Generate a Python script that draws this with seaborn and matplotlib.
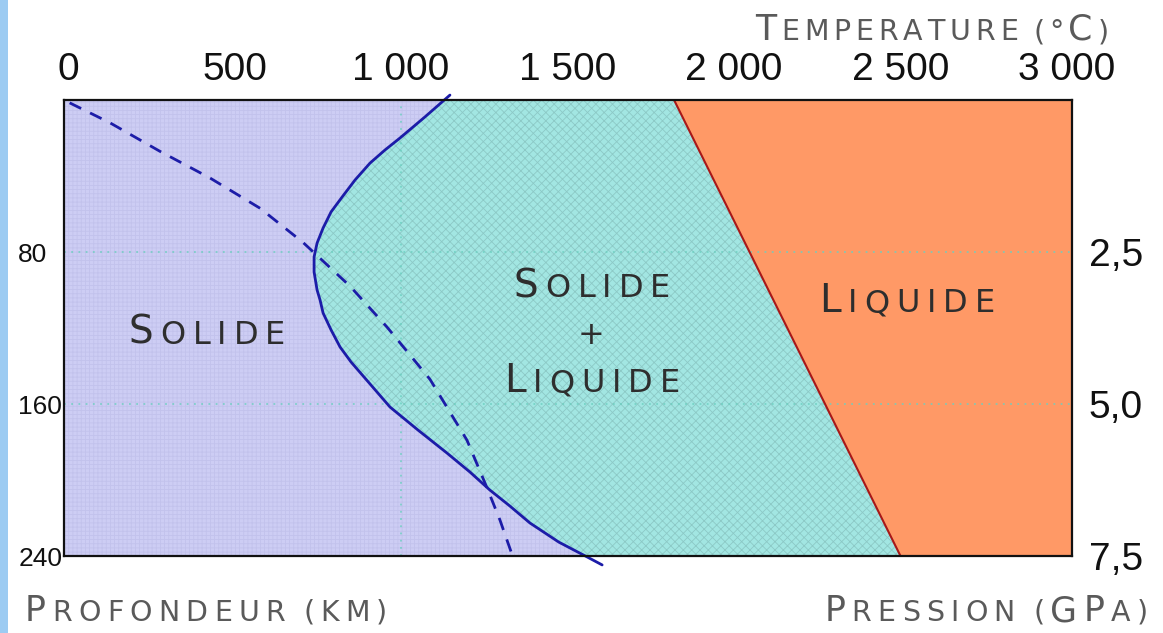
import numpy as np
import pandas as pd
import matplotlib
matplotlib.use("Agg")
import matplotlib.pyplot as plt
import seaborn as sns
from matplotlib.patches import Rectangle
from matplotlib.offsetbox import TextArea, HPacker, AnnotationBbox

# ---------------- data ----------------
# solidus (solid blue curve): temperature (deg C) vs depth (km)
solidus_temp = [1147, 1072, 997, 952, 907, 862, 823, 790, 766, 748, 739, 739, 748,
                757, 766, 790, 817, 850, 889, 928, 967, 1051, 1138, 1207, 1267, 1327,
                1387, 1474, 1559, 1604]
solidus_depth = [-2.6, 8.9, 20, 26.3, 33.2, 42.1, 51.1, 58.9, 67.4, 75.3, 82.6, 90.5, 100,
                 105.3, 112.1, 121, 130, 137.9, 145.8, 153.7, 161.6, 173.7, 185.8, 195.8,
                 205.3, 213.7, 222.6, 232.7, 240.5, 244.7]
# geotherm (dashed blue curve)
geotherm_temp = [5, 126, 276, 426, 577, 706, 847, 958, 1087, 1198, 1258, 1297, 1336]
geotherm_depth = [1.5, 12, 27, 41, 57, 75, 98, 119.5, 147, 179, 204, 221, 240.5]
# liquidus (red line)
liquidus_temp = [1820, 2500]
liquidus_depth = [0, 240]

temp_ticks = [0, 500, 1000, 1500, 2000, 2500, 3000]
temp_labels = ["0", "500", "1 000", "1 500", "2 000", "2 500", "3 000"]
depth_ticks = [80, 160, 240]
depth_labels = ["80", "160", "240"]
pressure_ticks = [2.5, 5.0, 7.5]
pressure_labels = ["2,5", "5,0", "7,5"]

# ---------------- style ----------------
sns.set_theme(style="white")
plt.rcParams["font.family"] = ["DejaVu Sans"]
plt.rcParams["hatch.linewidth"] = 0.6

W, H = 1163, 633
fig = plt.figure(figsize=(W / 100, H / 100), dpi=100)
fig.patch.set_facecolor("white")
fig.add_artist(Rectangle((0, 0), 8 / W, 1, transform=fig.transFigure,
                         facecolor="#9ccbf2", edgecolor="none"))

ax = fig.add_axes([64 / W, 77 / H, 1008 / W, 456 / H])
LAV = "#cdcdf4"
TURQ = "#a2e6e2"
ORANGE = "#ff9966"
ax.set_facecolor(LAV)
ax.set_xlim(-12, 3015)
ax.set_ylim(240, 0)

# lavender texture (solid region)
ax.fill_betweenx([0, 240], -12, 3015, facecolor=LAV, edgecolor="#c2c2ec",
                 linewidth=0, hatch="++++", zorder=0.5)

# solid + liquid region
poly_T = solidus_temp + liquidus_temp[::-1]
poly_d = solidus_depth + liquidus_depth[::-1]
ax.fill(poly_T, poly_d, facecolor=TURQ, edgecolor="#8cc9c6", linewidth=0,
        hatch="xxxx", zorder=1)

# liquid region
ax.fill_betweenx(liquidus_depth, liquidus_temp, 3100, facecolor=ORANGE,
                 edgecolor="none", linewidth=0, zorder=1.2)

# dotted grid
for d in depth_ticks[:2]:
    ax.axhline(d, color="#6ccfc0", lw=1.3, ls=(0, (1, 3)), alpha=0.8, zorder=1.5)
ax.axvline(1000, color="#6ccfc0", lw=1.3, ls=(0, (1, 3)), alpha=0.8, zorder=1.5)

# curves
line_df = pd.DataFrame({"T": solidus_temp, "d": solidus_depth})
sns.lineplot(data=line_df, x="T", y="d", sort=False, estimator=None, ax=ax,
             color="#1c1ca8", lw=2, clip_on=False, zorder=3)
ax.lines[-1].set_solid_joinstyle("round")
geo_df = pd.DataFrame({"T": geotherm_temp, "d": geotherm_depth})
sns.lineplot(data=geo_df, x="T", y="d", sort=False, estimator=None, ax=ax,
             color="#1c1ca8", lw=2, zorder=3)
ax.lines[-1].set_dashes([4.6, 3.6])
liq_df = pd.DataFrame({"T": liquidus_temp, "d": liquidus_depth})
sns.lineplot(data=liq_df, x="T", y="d", sort=False, estimator=None, ax=ax,
             color="#a81818", lw=1.5, zorder=3)

# axes / ticks
ax.xaxis.tick_top()
ax.set_xticks(temp_ticks)
ax.set_xticklabels(temp_labels, family="Liberation Sans", fontsize=28, color="#111111")
ax.set_yticks(depth_ticks)
ax.set_yticklabels(depth_labels, family="Liberation Sans", fontsize=19, color="#111111",
                   ha="left")
ax.tick_params(axis="x", length=0, pad=9)
ax.tick_params(axis="y", length=0, pad=33)
ax.set_xlabel("")
ax.set_ylabel("")
ax.grid(False)
for s in ax.spines.values():
    s.set_color("#111111")
    s.set_linewidth(1.6)
    s.set_zorder(4)

ax2 = ax.twinx()
ax2.set_ylim(7.5, 0)
ax2.set_yticks(pressure_ticks)
ax2.set_yticklabels(pressure_labels, family="Liberation Sans", fontsize=28, color="#111111")
ax2.tick_params(axis="y", length=0, pad=12)
ax2.grid(False)
for s in ax2.spines.values():
    s.set_visible(False)
ax2.patch.set_visible(False)


# ---------------- small-caps text helper ----------------
def smallcaps(text, xy, big, small, color, sep, coords, parent):
    kids = []
    for ch in text:
        if ch == " ":
            kids.append(TextArea(" ", textprops=dict(fontsize=small * 0.6)))
        elif ch.isalpha() and ch.islower():
            kids.append(TextArea(ch.upper(), textprops=dict(fontsize=small, color=color,
                                                            family="DejaVu Sans")))
        elif ch.isalpha():
            kids.append(TextArea(ch, textprops=dict(fontsize=big, color=color,
                                                    family="DejaVu Sans")))
        else:
            kids.append(TextArea(ch, textprops=dict(fontsize=small, color=color,
                                                    family="DejaVu Sans")))
    box = HPacker(children=kids, align="baseline", pad=0, sep=sep)
    ab = AnnotationBbox(box, xy, xycoords=coords, frameon=False,
                        box_alignment=(0.5, 0.5), zorder=5, annotation_clip=False)
    parent.add_artist(ab)


def fig_px(x, y):
    return (x, H - y)


TITLE = "#5a5a5a"
smallcaps("Temperature (°C)", fig_px(932, 30), 25, 20.5, TITLE, 3.5, "figure pixels", fig)
smallcaps("Profondeur (km)", fig_px(206, 611), 25, 20.5, TITLE, 4.5, "figure pixels", fig)
smallcaps("Pression (GPa)", fig_px(986, 611), 25, 20.5, TITLE, 4.5, "figure pixels", fig)

LBL = "#2e2e2e"
smallcaps("Solide", fig_px(207, 333), 28, 23, LBL, 5, "figure pixels", fig)
smallcaps("Solide", fig_px(592, 286), 28, 23, LBL, 5, "figure pixels", fig)
smallcaps("+", fig_px(591, 336), 28, 23, LBL, 0, "figure pixels", fig)
smallcaps("Liquide", fig_px(592, 381), 28, 23, LBL, 5, "figure pixels", fig)
smallcaps("Liquide", fig_px(907, 301), 28, 23, LBL, 5, "figure pixels", fig)

fig.savefig("out.png", dpi=100)
